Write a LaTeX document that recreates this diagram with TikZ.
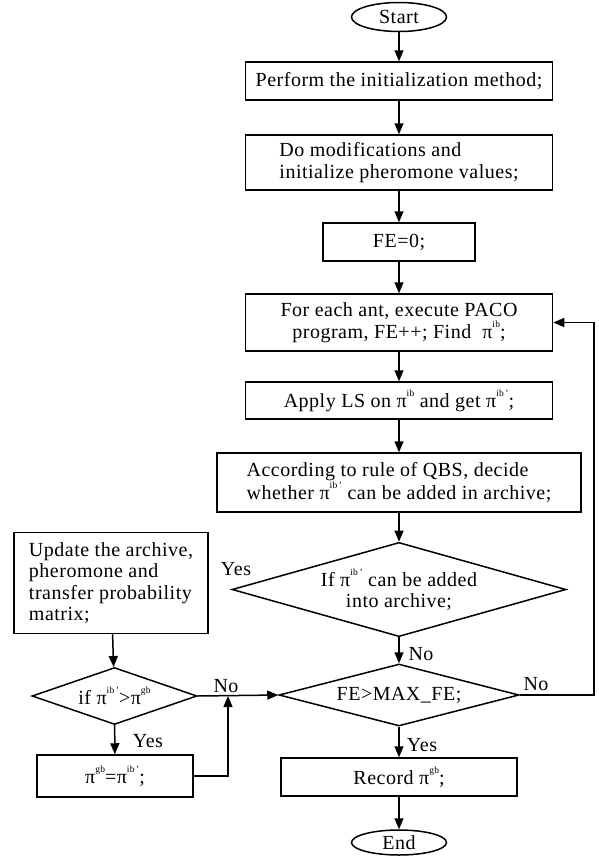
\documentclass[tikz,border=0pt]{standalone}
\usepackage{fontspec}
\setmainfont{Liberation Serif}[LetterSpace=2.5]
\usetikzlibrary{shapes.geometric,arrows.meta}
\newcommand\psup[1]{π\raisebox{0.55em}{\fontsize{9.5}{9.5}\selectfont #1}}
\begin{document}
\begin{tikzpicture}[x=1pt,y=-1pt,
  every node/.style={font=\fontsize{20}{21.5}\selectfont},
  box/.style={draw, line width=1.5pt, rectangle, inner sep=0pt},
  term/.style={draw, line width=1.5pt, ellipse, inner sep=0pt},
  dec/.style={draw, line width=1.5pt, diamond, inner sep=0pt, aspect=3},
  arr/.style={line width=1.5pt, -{Triangle[length=11pt,width=9pt]}},
  lbl/.style={inner sep=0pt},
]
\useasboundingbox (0,0) rectangle (598,863);
\node[term, minimum width=95, minimum height=29] (start) at (399,17) {Start};
\node[box, minimum width=307, minimum height=38] (b1) at (399,81) {Perform the initialization method;};
\node[box, minimum width=307, minimum height=55, align=left] (b2) at (399,162.5) {Do modifications and\\initialize pheromone values;};
\node[box, minimum width=152, minimum height=38] (b3) at (399,242) {FE=0;};
\node[box, minimum width=307, minimum height=57, align=center] (b4) at (399,322.5) {For each ant, execute PACO\\program, FE++; Find \ \psup{ib};};
\node[box, minimum width=307, minimum height=37] (b5) at (399,400.5) {Apply LS on \psup{ib} and get \psup{ib\,’};};
\node[box, minimum width=364, minimum height=59, align=left] (b6) at (399,482.5) {According to rule of QBS, decide\\whether \psup{ib\,’} can be added in archive;};
\node[dec, minimum width=334, minimum height=85, align=center] (d1) at (399,589.5) {If \psup{ib\,’} can be added\\into archive;};
\node[dec, minimum width=240, minimum height=62] (d2) at (399,695) {FE>MAX\_FE;};
\node[box, minimum width=236, minimum height=38] (rec) at (399,777) {Record \psup{gb};};
\node[term, minimum width=95, minimum height=25] (end) at (399,842.5) {End};
\node[box, minimum width=194, minimum height=101, align=left] (upd) at (111,583) {Update the archive,\\pheromone and\\transfer probability\\matrix;};
\node[dec, minimum width=165, minimum height=57] (d3) at (114.5,696) {if \psup{ib\,’}>\psup{gb}};
\node[box, minimum width=156, minimum height=42] (gb) at (115,776) {\psup{gb}=\psup{ib\,’};};
\coordinate (j) at (228,696);

\draw[arr] (start) -- (b1);
\draw[arr] (b1) -- (b2);
\draw[arr] (b2) -- (b3);
\draw[arr] (b3) -- (b4);
\draw[arr] (b4) -- (b5);
\draw[arr] (b5) -- (b6);
\draw[arr] (b6) -- (d1);
\draw[arr] (d1) -- (d2);
\draw[arr] (d2.east) -- ++(74,0) |- (b4.east);
\draw[arr] (d2) -- (rec);
\draw[arr] (rec) -- (end);
\draw[arr] (upd) -- (d3);
\draw[arr] (d3.east) -- (d2.west);
\draw[arr] (d3) -- (gb);
\draw[arr] (gb.east) -| (j);

\node[lbl] (l1) at (236,569) {Yes};
\node[lbl] (l2) at (421,654) {No};
\node[lbl] (l3) at (536,684) {No};
\node[lbl] (l4) at (422,745) {Yes};
\node[lbl] (l5) at (226,686) {No};
\node[lbl] (l6) at (148,741) {Yes};
\end{tikzpicture}
\end{document}
